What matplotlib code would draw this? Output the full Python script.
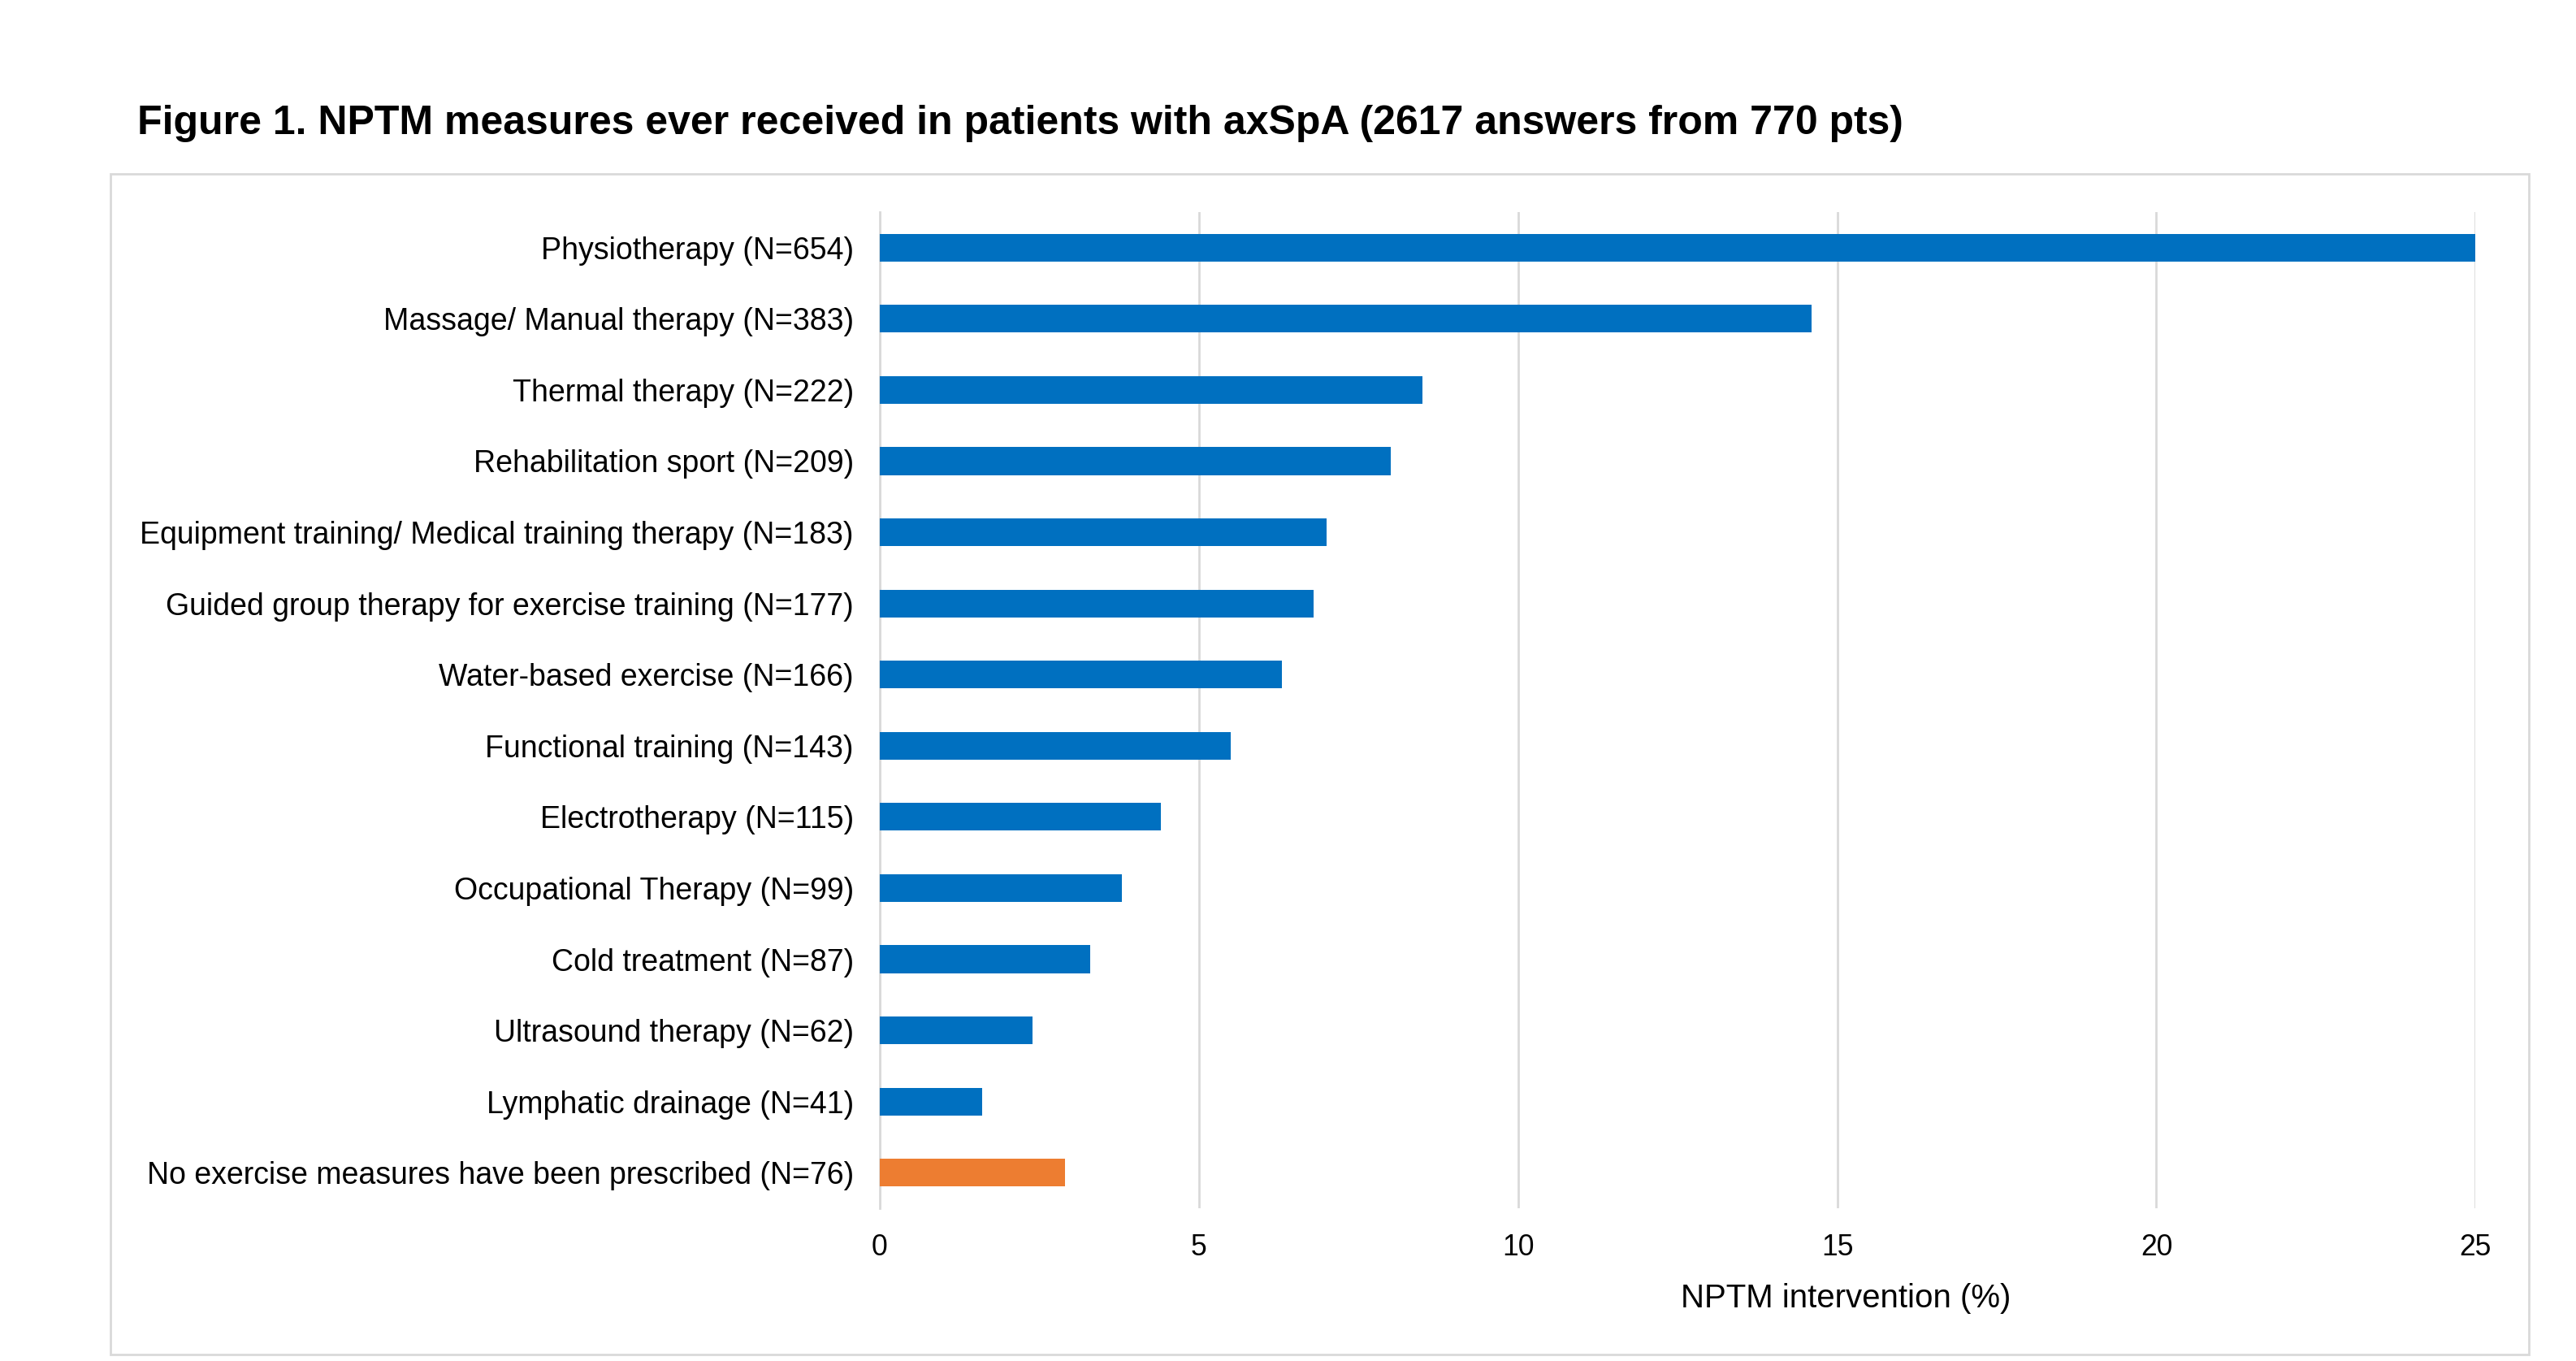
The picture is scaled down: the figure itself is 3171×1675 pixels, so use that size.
import matplotlib.pyplot as plt
from matplotlib.patches import Rectangle

plt.rcParams['font.family'] = ['Liberation Sans', 'DejaVu Sans']

# NPTM measures, top to bottom as in the figure
labels = [
    "Physiotherapy (N=654)",
    "Massage/ Manual therapy (N=383)",
    "Thermal therapy (N=222)",
    "Rehabilitation sport (N=209)",
    "Equipment training/ Medical training therapy (N=183)",
    "Guided group therapy for exercise training (N=177)",
    "Water-based exercise (N=166)",
    "Functional training (N=143)",
    "Electrotherapy (N=115)",
    "Occupational Therapy (N=99)",
    "Cold treatment (N=87)",
    "Ultrasound therapy (N=62)",
    "Lymphatic drainage (N=41)",
    "No exercise measures have been prescribed (N=76)",
]
percent = [25.0, 14.6, 8.5, 8.0, 7.0, 6.8, 6.3, 5.5, 4.4, 3.8, 3.3, 2.4, 1.6, 2.9]
colors = ['#0070C0'] * 13 + ['#ED7D31']

xticks = [0, 5, 10, 15, 20, 25]

fig = plt.figure(figsize=(15.855, 8.375), dpi=200)

# light grey frame around the chart area
fig.patches.append(Rectangle((136 / 3171, 1 - 1667 / 1675), (3113 - 136) / 3171, (1667 - 214) / 1675,
                             transform=fig.transFigure, fill=False, edgecolor='#d9d9d9', linewidth=1.0))

ax = fig.add_axes([0.3415, 0.1122, 0.961 - 0.3415, 0.8442 - 0.1122])
ypos = list(range(len(labels)))
ax.barh(ypos, percent, height=0.39, color=colors, zorder=3)
ax.set_ylim(len(labels) - 0.5, -0.5)
ax.set_xlim(0, 25)
ax.set_yticks(ypos)
ax.set_yticklabels(labels, fontsize=13.5)
ax.set_xticks(xticks)
ax.set_xticklabels([str(t) for t in xticks], fontsize=12.8)
ax.tick_params(axis='both', length=0)
ax.tick_params(axis='y', pad=11.5)
ax.tick_params(axis='x', pad=11)
ax.grid(axis='x', color='#d9d9d9', linewidth=1.0, zorder=0)
for s in ['top', 'right', 'bottom']:
    ax.spines[s].set_visible(False)
ax.spines['left'].set_color('#d9d9d9')
ax.spines['left'].set_linewidth(1.0)

fig.text(0.7165, 0.046, "NPTM intervention (%)", fontsize=14.5, ha='center', va='center')
fig.text(0.0533, 1 - 165 / 1675, "Figure 1. NPTM measures ever received in patients with axSpA (2617 answers from 770 pts)",
         fontsize=18, fontweight='bold', ha='left', va='baseline')

fig.savefig('out.png', dpi=200)
